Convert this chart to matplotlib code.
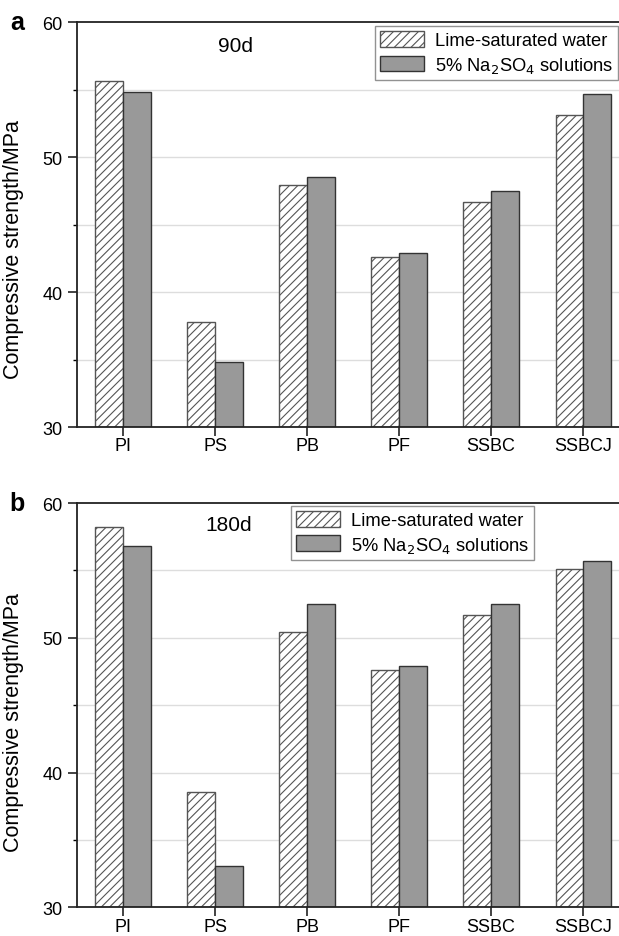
import numpy as np
import matplotlib.pyplot as plt

plt.rcParams['font.family'] = ['Liberation Sans', 'DejaVu Sans']
plt.rcParams['hatch.color'] = '#808080'
plt.rcParams['hatch.linewidth'] = 0.8

categories = ['PI', 'PS', 'PB', 'PF', 'SSBC', 'SSBCJ']
lime_90 = [55.6, 37.8, 47.9, 42.6, 46.7, 53.1]
na2so4_90 = [54.8, 34.8, 48.5, 42.9, 47.5, 54.7]
lime_180 = [58.2, 38.6, 50.4, 47.6, 51.7, 55.1]
na2so4_180 = [56.8, 33.1, 52.5, 47.9, 52.5, 55.7]

fig = plt.figure(figsize=(6.19, 9.37), dpi=100)
ax_a = fig.add_axes([0.1244, 0.5432, 0.8756, 0.4322])
ax_b = fig.add_axes([0.1244, 0.0305, 0.8756, 0.4315])

x = np.arange(len(categories))
w = 0.3


def draw(ax, lime, na, age, letter, age_pos, legend_anchor, label_y):
    ax.set_axisbelow(True)
    for yv in [35, 40, 45, 50, 55]:
        ax.axhline(yv, color='#dddddd', lw=1, zorder=0)
    ax.bar(x - w / 2, np.array(lime) - 30, w, bottom=30, color='white',
           edgecolor='#555555', hatch='////', lw=1.0,
           label='Lime-saturated water')
    ax.bar(x + w / 2, np.array(na) - 30, w, bottom=30, color='#999999',
           edgecolor='#333333', lw=1.0,
           label='5% Na$_2$SO$_4$ solutions')
    ax.set_ylim(30, 60)
    ax.set_xlim(-0.5, 5.39)
    ax.set_yticks([30, 40, 50, 60])
    ax.set_yticks([35, 45, 55], minor=True)
    ax.set_xticks(x)
    ax.set_xticklabels(categories)
    ax.tick_params(labelsize=13, direction='out', length=6.3, width=1.2,
                   pad=4, colors='#222222', labelcolor='black')
    ax.tick_params(axis='x', pad=1)
    ax.tick_params(which='minor', length=3, width=1.0)
    ax.set_ylabel('Compressive strength/MPa', fontsize=15.5)
    ax.yaxis.set_label_coords(-0.098, label_y)
    ax.spines['right'].set_visible(False)
    for s in ['left', 'bottom', 'top']:
        ax.spines[s].set_linewidth(1.3)
        ax.spines[s].set_color('#222222')
    ax.text(age_pos[0], age_pos[1], age, transform=ax.transAxes, fontsize=15,
            ha='center', va='center')
    ax.text(-0.11, 1.0, letter, transform=ax.transAxes, fontsize=18,
            fontweight='bold', ha='center', va='center')
    leg = ax.legend(loc='upper left', bbox_to_anchor=legend_anchor,
                    fontsize=13.2, frameon=True, fancybox=False,
                    edgecolor='#777777', handlelength=2.4, handleheight=0.95,
                    borderpad=0.27, labelspacing=0.3, handletextpad=0.6,
                    borderaxespad=0)
    leg.get_frame().set_linewidth(1.0)


draw(ax_a, lime_90, na2so4_90, '90d', 'a', (0.292, 0.941), (0.550, 0.99),
     0.44)
draw(ax_b, lime_180, na2so4_180, '180d', 'b', (0.279, 0.946), (0.395, 0.993),
     0.46)

fig.savefig('out.png', dpi=100)
